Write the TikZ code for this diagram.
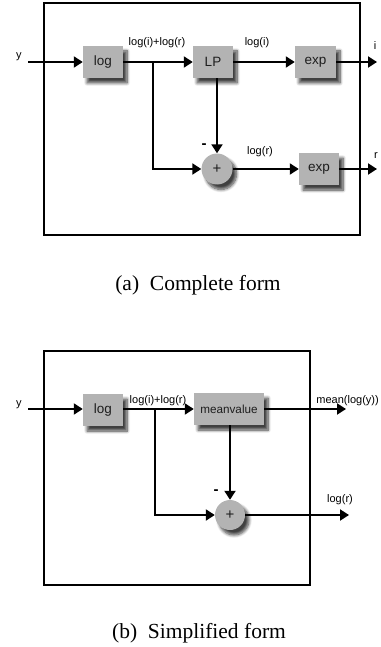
\documentclass[tikz,border=0pt]{standalone}
\usepackage{fontspec}
\setmainfont{Liberation Serif}
\newfontfamily\diagfont{Liberation Sans}
\usetikzlibrary{arrows.meta,shadows.blur}
\definecolor{boxgray}{HTML}{B3B3B3}
\definecolor{boxtext}{HTML}{1E1E1E}
\tikzset{
  blk/.style={draw=none, fill=boxgray, minimum height=32pt, inner sep=0pt,
    font=\diagfont\fontsize{13.5}{15}\selectfont, text=boxtext,
    blur shadow={shadow xshift=4pt, shadow yshift=-5pt, shadow blur steps=8, shadow blur radius=3pt, shadow opacity=75}},
  sumnode/.style={circle, draw=none, fill=boxgray, minimum size=31pt, inner sep=0pt,
    font=\diagfont\fontsize{15}{17}\selectfont, text=boxtext,
    blur shadow={shadow xshift=4pt, shadow yshift=-5pt, shadow blur steps=8, shadow blur radius=3pt, shadow opacity=75}},
  sig/.style={line width=2pt, -{Triangle[length=9pt,width=11pt]}},
  lbl/.style={font=\diagfont\fontsize{11}{13}\selectfont, inner sep=0pt},
  minus/.style={font=\diagfont\bfseries\fontsize{15}{17}\selectfont, inner sep=0pt},
  frm/.style={line width=2pt},
  captxt/.style={font=\fontsize{21.5}{24}\selectfont, inner sep=0pt}
}
\begin{document}
\begin{tikzpicture}[x=1pt,y=-1pt]
\useasboundingbox (0,0) rectangle (380,647);
% ---------- (a) complete form ----------
\draw[frm] (44,3) rectangle (360,235);
\node[blk, minimum width=40pt] (log1) at (103,62) {log};
\node[blk, minimum width=40pt] (lp1) at (213,62) {LP};
\node[blk, minimum width=41pt] (expa) at (315.5,62) {exp};
\node[sumnode] (sum1) at (217,169) {+};
\node[blk, minimum width=40pt] (expb) at (319,169) {exp};
\coordinate (in1) at (28,62);
\coordinate (br1) at (153,62);
\coordinate (outi) at (377,62);
\coordinate (outr) at (377,169);
\node[lbl] (ylbl1) at (19,57) {y};
\node[lbl] (l1a) at (157,43) {log(i)+log(r)};
\node[lbl] (l1b) at (257,43) {log(i)};
\node[lbl] (l1c) at (260,152) {log(r)};
\node[lbl] (ilbl) at (375,46) {i};
\node[lbl] (rlbl) at (376,156) {r};
\node[minus] (m1) at (204,146) {-};
\draw[sig] (in1) -- (log1);
\draw[sig] (log1) -- (lp1);
\draw[sig] (lp1) -- (expa);
\draw[sig] (expa) -- (outi);
\draw[sig] (br1) |- (sum1);
\draw[sig] (sum1 |- lp1.south) -- (sum1);
\draw[sig] (sum1) -- (expb);
\draw[sig] (expb) -- (outr);
\node[captxt] (capa) at (198,285) {(a)~~Complete form};
% ---------- (b) simplified form ----------
\draw[frm] (44,351) rectangle (310,585);
\node[blk, minimum width=40pt] (log2) at (103,410) {log};
\node[blk, minimum width=70pt, font=\diagfont\fontsize{11.7}{14}\selectfont] (mv2) at (229,409) {meanvalue};
\node[sumnode, minimum size=30pt] (sum2) at (230,515) {+};
\coordinate (in2) at (28,409);
\coordinate (br2) at (155,409);
\coordinate (outm) at (346,409);
\coordinate (outr2) at (349,515);
\node[lbl] (ylbl2) at (19,405) {y};
\node[lbl] (l2a) at (158,401) {log(i)+log(r)};
\node[lbl, anchor=east] (l2b) at (379,401) {mean(log(y))};
\node[lbl] (l2c) at (340,500) {log(r)};
\node[minus] (m2) at (216,492) {-};
\draw[sig] (in2) -- (log2.west |- in2);
\draw[sig] (log2.east |- in2) -- (mv2.west |- in2);
\draw[sig] (mv2.east |- in2) -- (outm);
\draw[sig] (br2) |- (sum2);
\draw[sig] (sum2 |- mv2.south) -- (sum2);
\draw[sig] (sum2) -- (outr2);
\node[captxt] (capb) at (199,633) {(b)~~Simplified form};
\end{tikzpicture}
\end{document}
